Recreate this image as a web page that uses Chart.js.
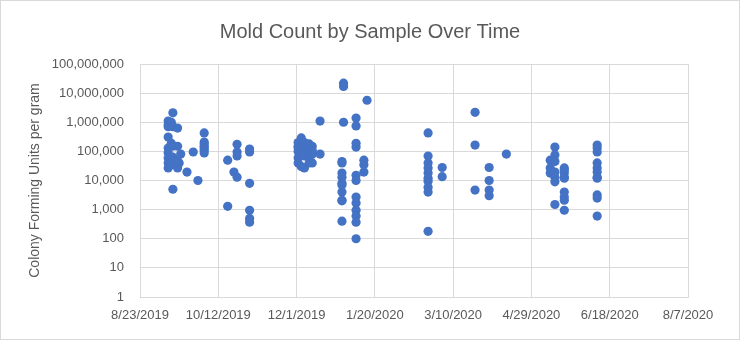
<!DOCTYPE html>
<html>
<head>
<meta charset="utf-8">
<script src="https://cdn.jsdelivr.net/npm/chart.js@4.4.0/dist/chart.umd.min.js"></script>
<style>
body { margin: 0; background: #fff; }
</style>
</head>
<body>
<canvas id="moldChart" width="740" height="340"></canvas>
<script>
var startDate = '2019-08-23';
var xTickLabels = ['8/23/2019', '10/12/2019', '12/1/2019', '1/20/2020', '3/10/2020', '4/29/2020', '6/18/2020', '8/7/2020'];
var yTickValues = [1, 10, 100, 1000, 10000, 100000, 1000000, 10000000, 100000000];

// sample dates and the CFU/g counts measured on each
var sampleDates = [
	'2019-09-10', '2019-09-12', '2019-09-13', '2019-09-16', '2019-09-17', '2019-09-18',
	'2019-09-22', '2019-09-26', '2019-09-29', '2019-10-03', '2019-10-18', '2019-10-22',
	'2019-10-24', '2019-11-01',
	'2019-12-02', '2019-12-04', '2019-12-06', '2019-12-09', '2019-12-11', '2019-12-16',
	'2019-12-30', '2019-12-31', '2020-01-08', '2020-01-13', '2020-01-15',
	'2020-02-23', '2020-03-03', '2020-03-24', '2020-04-02', '2020-04-13',
	'2020-05-11', '2020-05-14', '2020-05-20', '2020-06-10'
];
var sampleCounts = [
	[1100000, 800000, 700000, 310000, 130000, 90000, 59000, 40000, 27000],
	[1000000, 190000, 50000, 35000],
	[2100000, 700000, 150000, 63000, 5000],
	[630000, 150000, 45000, 27000],
	[40000],
	[81000],
	[19500],
	[95000],
	[10000],
	[430000, 210000, 180000, 150000, 130000, 110000, 88000],
	[50000, 1300],
	[19500],
	[175000, 95000, 70000, 13000],
	[120000, 95000, 8000, 950, 500, 370],
	[150000, 100000, 60000, 40000, 130000, 200000],
	[290000, 180000, 120000, 80000, 30000, 90000],
	[200000, 140000, 100000, 70000, 27000],
	[180000, 110000, 60000, 40000],
	[150000, 110000, 80000, 40000],
	[1100000, 81000],
	[45000, 40000, 18000, 13000, 8000, 7000, 4000, 2100, 2000, 400],
	[22000000, 17000000, 1000000],
	[1400000, 750000, 190000, 140000, 15000, 10000, 2700, 1700, 950, 600, 370, 100],
	[50000, 35000, 19500],
	[5700000],
	[430000, 69000, 40000, 27000, 18000, 12000, 9500, 5900, 4000, 180],
	[28000, 13500],
	[2200000, 165000, 4700],
	[28000, 10000, 4700, 3000],
	[81000],
	[50000, 27000, 18000],
	[140000, 75000, 45000, 19500, 13000, 9000, 1500],
	[27000, 23000, 18000, 13000, 12000, 4000, 2700, 2100, 950],
	[165000, 130000, 95000, 40000, 27000, 19500, 13000, 12000, 3200, 2500, 600]
];

function dayOffset(dateStr) {
	var p = dateStr.split('-');
	var s = startDate.split('-');
	return (Date.UTC(+p[0], p[1] - 1, +p[2]) - Date.UTC(+s[0], s[1] - 1, +s[2])) / 86400000;
}

function getPoints() {
	var points = [];
	sampleDates.forEach(function(d, i) {
		sampleCounts[i].forEach(function(v) {
			points.push({ x: dayOffset(d), y: v });
		});
	});
	return points;
}

var chartBorder = {
	id: 'chartBorder',
	beforeDraw: function(chart) {
		var ctx = chart.ctx;
		ctx.save();
		ctx.fillStyle = '#ffffff';
		ctx.fillRect(0, 0, chart.width, chart.height);
		ctx.strokeStyle = '#d9d9d9';
		ctx.lineWidth = 1;
		ctx.strokeRect(0.5, 0.5, chart.width - 1, chart.height - 1);
		ctx.restore();
	}
};

var textColor = '#595959';
var gridColor = '#d9d9d9';
var fontFamily = '"Liberation Sans", Arial, sans-serif';

new Chart(document.getElementById('moldChart'), {
	type: 'scatter',
	data: {
		datasets: [{
			data: getPoints(),
			backgroundColor: '#4472C4',
			borderColor: '#4472C4',
			borderWidth: 0,
			pointRadius: 4.6
		}]
	},
	options: {
		responsive: false,
		animation: false,
		layout: { padding: 0 },
		plugins: {
			legend: { display: false },
			tooltip: { enabled: false },
			title: {
				display: true,
				text: 'Mold Count by Sample Over Time',
				color: textColor,
				font: { family: fontFamily, size: 20, weight: 'normal' },
				padding: { top: 20, bottom: 20 }
			}
		},
		scales: {
			x: {
				type: 'linear',
				min: 0,
				max: 350,
				afterFit: function(scale) {
					scale.height = 43;
					scale.paddingRight = 52;
				},
				grid: { color: gridColor, drawTicks: false },
				border: { color: gridColor },
				ticks: {
					stepSize: 50,
					padding: 11,
					color: textColor,
					font: { family: fontFamily, size: 13 },
					maxRotation: 0,
					callback: function(v, i) { return xTickLabels[i]; }
				}
			},
			y: {
				type: 'logarithmic',
				min: 1,
				max: 100000000,
				afterFit: function(scale) { scale.width = 140; },
				afterBuildTicks: function(scale) {
					scale.ticks = yTickValues.map(function(v) { return { value: v }; });
				},
				grid: { color: gridColor, drawTicks: false },
				border: { display: false },
				ticks: {
					padding: 16,
					color: textColor,
					font: { family: fontFamily, size: 13 },
					callback: function(v) { return Number(v).toLocaleString('en-US'); }
				},
				title: {
					display: true,
					text: 'Colony Forming Units per gram',
					color: textColor,
					font: { family: fontFamily, size: 14 },
					padding: { top: 27, bottom: 0 }
				}
			}
		}
	},
	plugins: [chartBorder]
});
</script>
</body>
</html>
